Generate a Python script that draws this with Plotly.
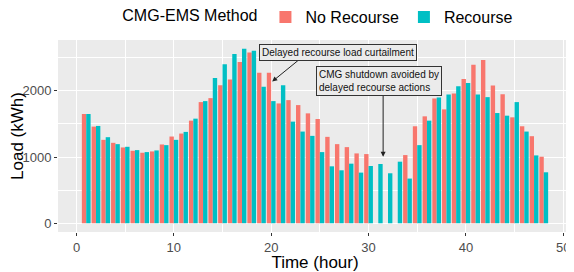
import plotly.graph_objects as go

hours = list(range(1, 49))
no_recourse = [1650, 1460, 1260, 1215, 1145, 1095, 1065, 1085, 1190, 1310, 1355, 1550,
               1830, 1890, 2085, 2170, 2435, 2580, 2275, 2275, 1810, 1860, 1785, 1660,
               1575, 1305, 1195, 1150, 1055, 1045, 0, 0, 0, 1030, 1465, 1615,
               1885, 1720, 1960, 2180, 2395, 2465, 2080, 1950, 1600, 1465, 1315, 1005]
recourse = [1650, 1470, 1300, 1195, 1155, 1105, 1075, 1100, 1180, 1260, 1380, 1580,
            1845, 2195, 2400, 2555, 2635, 2605, 2060, 1845, 2085, 1535, 1385, 1320,
            1075, 860, 800, 900, 765, 865, 895, 755, 930, 675, 1180, 1550,
            1900, 1945, 2070, 2120, 1945, 1905, 1665, 1625, 1830, 1385, 1025, 770]

series_names = ["No Recourse", "Recourse"]
series_colors = ["#F8766D", "#00BFC4"]

x_ticks = [0, 10, 20, 30, 40, 50]
y_ticks = [0, 1000, 2000]

label1 = "Delayed recourse load curtailment"
label2 = "CMG shutdown avoided by<br>delayed recourse actions"

FONT = "Liberation Sans, Arial, sans-serif"
PANEL = "#EBEBEB"

fig = go.Figure()
for name, vals, col in zip(series_names, [no_recourse, recourse], series_colors):
    fig.add_trace(go.Bar(x=hours, y=vals, name=name, marker=dict(color=col, line=dict(width=0))))

# annotation arrows
fig.add_annotation(x=20.1, y=2140, ax=22.9, ay=2475, xref="x", yref="y", axref="x", ayref="y",
                   text="", showarrow=True, arrowhead=2, arrowsize=1, arrowwidth=1, arrowcolor="#222")
fig.add_annotation(x=31.5, y=1005, ax=31.5, ay=1960, xref="x", yref="y", axref="x", ayref="y",
                   text="", showarrow=True, arrowhead=2, arrowsize=1, arrowwidth=1, arrowcolor="#222")
# label boxes
fig.add_annotation(x=26.9, y=2584, xref="x", yref="y", text=label1, showarrow=False,
                   font=dict(family=FONT, size=10, color="#111"), bgcolor=PANEL,
                   bordercolor="#333", borderwidth=1, borderpad=2)
fig.add_annotation(x=31.1, y=2146, xref="x", yref="y", text=label2, showarrow=False, align="left",
                   font=dict(family=FONT, size=10, color="#111"), bgcolor=PANEL,
                   bordercolor="#333", borderwidth=1, borderpad=2)

fig.update_layout(
    width=566, height=264,
    margin=dict(l=50, r=2, t=32, b=40, autoexpand=False),
    barmode="group", bargap=0.1, bargroupgap=0,
    plot_bgcolor=PANEL, paper_bgcolor="white",
    font=dict(family=FONT, color="#000"),
    legend=dict(orientation="h", x=0.55, xanchor="center", xref="container",
                y=0.966, yanchor="middle", yref="container",
                title=dict(text="CMG-EMS Method", side="left", font=dict(size=16, color="#000")),
                font=dict(size=16, color="#000"), itemwidth=30, tracegroupgap=0),
    xaxis=dict(range=[-1.9, 50.9], tickvals=x_ticks, ticks="outside", ticklen=3, tickcolor="#333",
               tickfont=dict(size=13, color="#4D4D4D"), showgrid=True, gridcolor="white", gridwidth=1.1,
               zeroline=False, automargin=False,
               minor=dict(dtick=5, showgrid=True, gridcolor="white", gridwidth=0.5),
               title=dict(text="Time (hour)", font=dict(size=17, color="#000"), standoff=0)),
    yaxis=dict(range=[-132, 2768], tickvals=y_ticks, ticks="outside", ticklen=3, tickcolor="#333",
               tickfont=dict(size=13, color="#4D4D4D"), showgrid=True, gridcolor="white", gridwidth=1.1,
               zeroline=False, automargin=False,
               minor=dict(dtick=500, showgrid=True, gridcolor="white", gridwidth=0.5),
               title=dict(text="Load (kWh)", font=dict(size=17, color="#000"), standoff=2)),
)

fig.write_html("out.html")
